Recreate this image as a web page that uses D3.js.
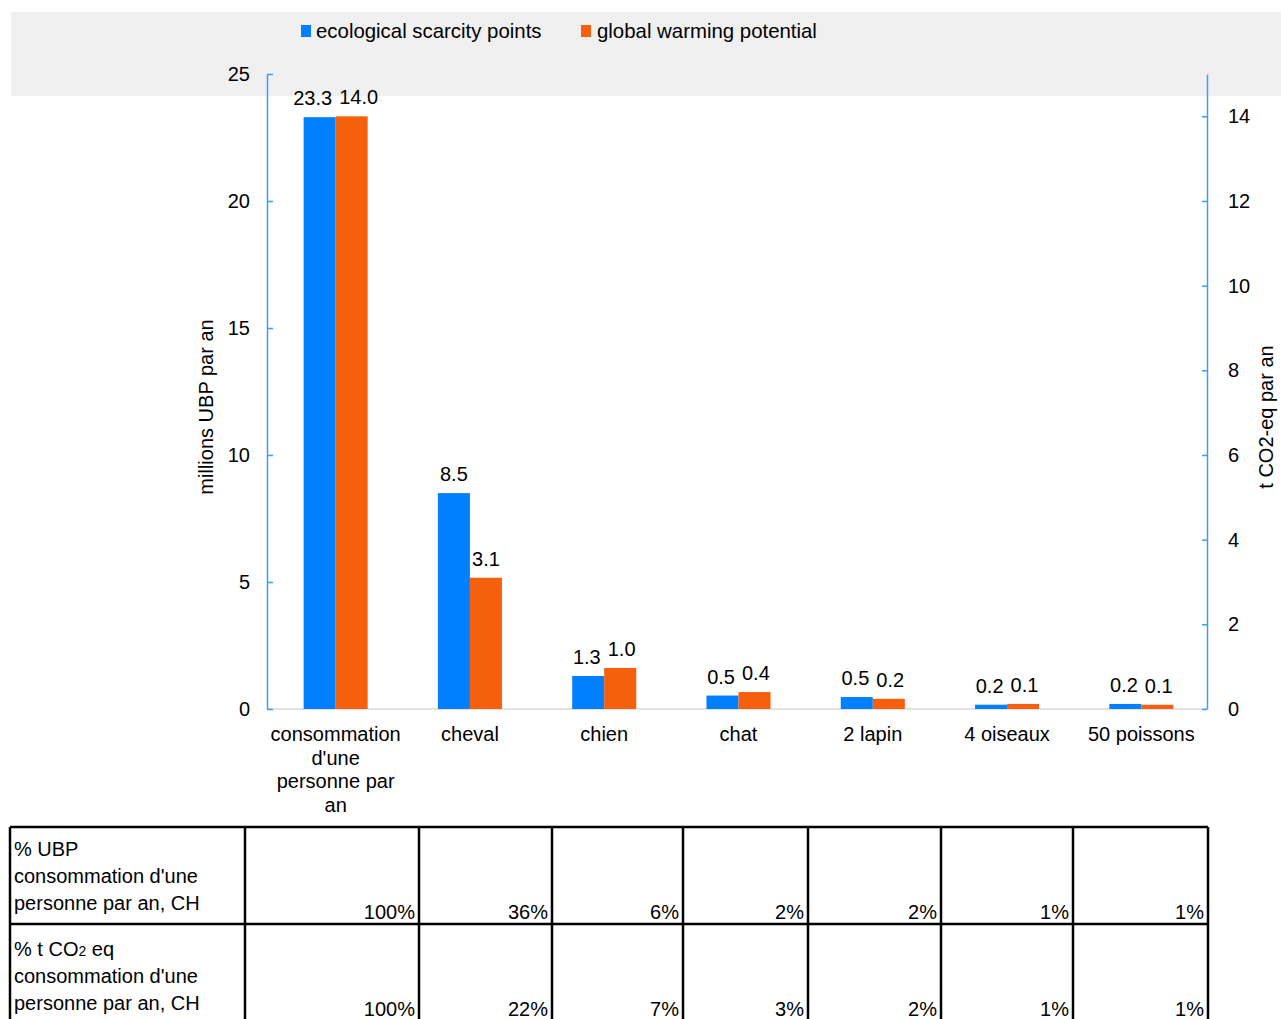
<!DOCTYPE html>
<html>
<head>
<meta charset="utf-8">
<script src="https://cdn.jsdelivr.net/npm/d3@7/dist/d3.min.js"></script>
<style>
  html, body { margin: 0; padding: 0; background: #fff; }
  svg { display: block; font-family: "Liberation Sans", Arial, sans-serif; }
</style>
</head>
<body>
<svg id="chart" width="1281" height="1019"></svg>
<script>
// ---- data ----
const categories = ["consommation d'une personne par an", "cheval", "chien", "chat", "2 lapin", "4 oiseaux", "50 poissons"];
const seriesNames = ["ecological scarcity points", "global warming potential"];
const ubpValues = [23.3, 8.5, 1.3, 0.53, 0.47, 0.17, 0.2];      // millions UBP par an (left axis)
const co2Values = [14.0, 3.1, 0.97, 0.4, 0.24, 0.12, 0.1];      // t CO2-eq par an (right axis)
const leftTicks = [0, 5, 10, 15, 20, 25];
const rightTicks = [0, 2, 4, 6, 8, 10, 12, 14];
const pctUbp = ["100%", "36%", "6%", "2%", "2%", "1%", "1%"];
const pctCo2 = ["100%", "22%", "7%", "3%", "2%", "1%", "1%"];
const rowHeaders = [["% UBP", "consommation d'une", "personne par an, CH"],
                    ["% t CO|2| eq", "consommation d'une", "personne par an, CH"]];

// ---- layout ----
const colors = ["#0080ff", "#f65f0c"];
const axisColor = "#3d9bff";
const svg = d3.select("#chart");
const plot = { left: 267, right: 1207, top: 74, bottom: 709 };
const FS = 20;

// grey header band
svg.append("rect").attr("x", 11).attr("y", 12).attr("width", 1270).attr("height", 84).attr("fill", "#f0f0f0");

// scales
const x = d3.scaleBand().domain(categories).range([plot.left + 1.5, plot.right + 1.5]).paddingInner(0.523).paddingOuter(0.2615);
const xs = d3.scaleBand().domain([0, 1]).range([0, x.bandwidth()]);
const yL = d3.scaleLinear().domain([0, 25]).range([plot.bottom, plot.top]);
const yR = d3.scaleLinear().domain([0, 15]).range([plot.bottom, plot.top]);

// baseline
svg.append("line").attr("x1", plot.left).attr("x2", plot.right).attr("y1", plot.bottom).attr("y2", plot.bottom)
  .attr("stroke", "#d9d9d9").attr("stroke-width", 1.5);

// bars
const series = [
  { vals: ubpValues, scale: yL },
  { vals: co2Values, scale: yR }
];
const labelSel = [];
series.forEach((s, si) => {
  const g = svg.append("g");
  g.selectAll("rect").data(s.vals).join("rect")
    .attr("x", (d, i) => x(categories[i]) + xs(si))
    .attr("y", d => s.scale(d))
    .attr("width", xs.bandwidth())
    .attr("height", d => plot.bottom - s.scale(d))
    .attr("fill", colors[si]);
  labelSel.push(g.selectAll("text").data(s.vals).join("text")
    .attr("x", (d, i) => x(categories[i]) + xs(si) + xs.bandwidth() / 2)
    .attr("y", d => s.scale(d) - 12)
    .attr("text-anchor", "middle")
    .attr("font-size", FS).attr("fill", "#000")
    .text(d => d.toFixed(1)));
});
// nudge overlapping label pairs apart
categories.forEach((c, i) => {
  const a = labelSel[0].nodes()[i], b = labelSel[1].nodes()[i];
  const ya = +a.getAttribute("y"), yb = +b.getAttribute("y");
  if (Math.abs(ya - yb) > FS) return;
  const xa = +a.getAttribute("x"), xb = +b.getAttribute("x");
  const need = (a.getComputedTextLength() + b.getComputedTextLength()) / 2 + 7;
  const have = xb - xa;
  if (have < need) {
    const d = (need - have) / 2;
    a.setAttribute("x", xa - d);
    b.setAttribute("x", xb + d);
  }
});

// left axis
const axL = svg.append("g").attr("transform", `translate(${plot.left},0)`)
  .call(d3.axisLeft(yL).tickValues(leftTicks).tickSize(-6).tickPadding(17).tickSizeOuter(0));
axL.select(".domain").attr("stroke", axisColor).attr("stroke-width", 1.5);
axL.selectAll(".tick line").attr("stroke", axisColor).attr("stroke-width", 1.5);
axL.selectAll(".tick text").attr("font-size", FS).attr("font-family", "Liberation Sans, Arial, sans-serif").attr("fill", "#000");

// right axis
const axR = svg.append("g").attr("transform", `translate(${plot.right},0)`)
  .call(d3.axisRight(yR).tickValues(rightTicks).tickSize(-5).tickPadding(21).tickSizeOuter(0));
axR.select(".domain").attr("stroke", axisColor).attr("stroke-width", 1.5);
axR.selectAll(".tick line").attr("stroke", axisColor).attr("stroke-width", 1.5);
axR.selectAll(".tick text").attr("font-size", FS).attr("font-family", "Liberation Sans, Arial, sans-serif").attr("fill", "#000");

// axis titles
svg.append("text").attr("transform", "translate(213,407) rotate(-90)").attr("text-anchor", "middle")
  .attr("font-size", FS).text("millions UBP par an");
svg.append("text").attr("transform", "translate(1273,417) rotate(-90)").attr("text-anchor", "middle")
  .attr("font-size", FS).text("t CO2-eq par an");

// category labels with wrap
categories.forEach(c => {
  const t = svg.append("text").attr("text-anchor", "middle").attr("font-size", FS).attr("font-family", "Liberation Sans, Arial, sans-serif");
  const cx = x(c) + x.bandwidth() / 2;
  const words = c.split(" ");
  let lines = [], cur = [];
  const probe = t.append("tspan");
  words.forEach(w => {
    const trial = cur.concat([w]).join(" ");
    probe.text(trial);
    if (cur.length && probe.node().getComputedTextLength() > x.step()) {
      lines.push(cur.join(" ")); cur = [w];
    } else cur.push(w);
  });
  lines.push(cur.join(" "));
  probe.remove();
  lines.forEach((l, i) => t.append("tspan").attr("x", cx).attr("y", 741 + i * 23.7).text(l));
});

// legend
const legendItems = [{ x: 301, tx: 316 }, { x: 581, tx: 597 }];
seriesNames.forEach((n, i) => {
  svg.append("rect").attr("x", legendItems[i].x).attr("y", 25).attr("width", 10).attr("height", 12).attr("fill", colors[i]);
  svg.append("text").attr("x", legendItems[i].tx).attr("y", 38).attr("font-size", 20.4).attr("fill", "#000").text(n);
});

// table
const colX = [10, 245, 419, 552, 683, 808, 941, 1073, 1208];
const rowY = [827, 924, 1021];
const headerOffset = [29, 32];
const tbl = svg.append("g");
const tableRows = [pctUbp, pctCo2];
tableRows.forEach((row, r) => {
  const y0 = rowY[r], y1 = rowY[r + 1];
  rowHeaders[r].forEach((line, li) => {
    const t = tbl.append("text").attr("x", 14).attr("y", y0 + headerOffset[r] + li * 27).attr("font-size", FS);
    const parts = line.split("|");
    parts.forEach((p, pi) => {
      t.append("tspan").attr("font-size", pi === 1 ? 14 : FS).text(p);
    });
  });
  row.forEach((v, ci) => {
    tbl.append("text").attr("x", colX[ci + 2] - 4).attr("y", y1 - 5).attr("text-anchor", "end")
      .attr("font-size", FS).text(v);
  });
});
// grid lines
rowY.forEach(yy => tbl.append("line").attr("x1", colX[0]).attr("x2", colX[colX.length - 1]).attr("y1", yy).attr("y2", yy)
  .attr("stroke", "#000").attr("stroke-width", 2.5));
colX.forEach(xx => tbl.append("line").attr("x1", xx).attr("x2", xx).attr("y1", rowY[0]).attr("y2", rowY[2])
  .attr("stroke", "#000").attr("stroke-width", 2.5));
</script>
</body>
</html>
